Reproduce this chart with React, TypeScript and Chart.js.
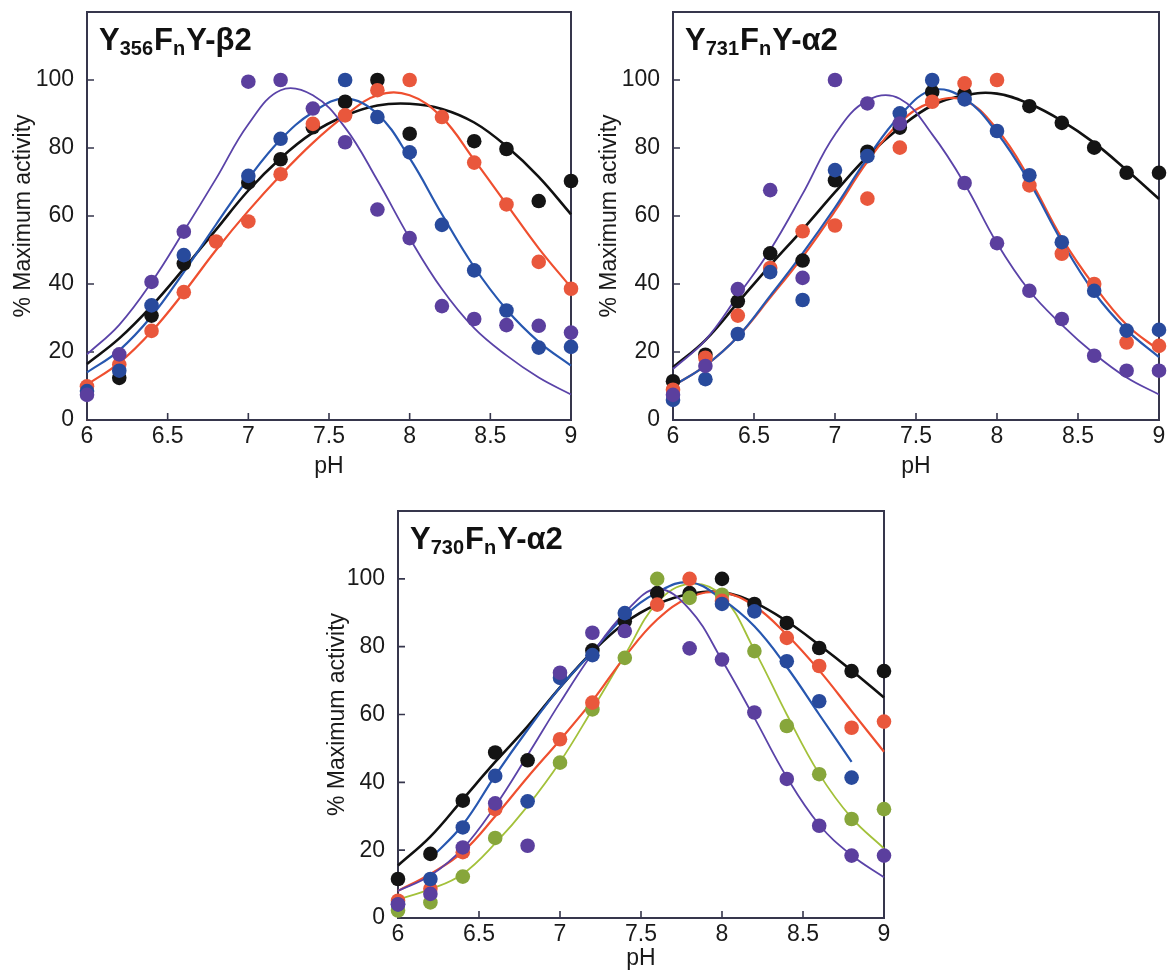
import React, { useEffect, useRef } from 'react';
import { Chart, registerables } from 'chart.js';
Chart.register(...registerables);

const FONT = '"Liberation Sans", Arial, Helvetica, sans-serif';

// pH grid shared by all panels
const pH = [6.0, 6.2, 6.4, 6.6, 6.8, 7.0, 7.2, 7.4, 7.6, 7.8, 8.0, 8.2, 8.4, 8.6, 8.8, 9.0];
const xTickValues = [6, 6.5, 7, 7.5, 8, 8.5, 9];
const yTickValues = [0, 20, 40, 60, 80, 100];

// ---------- Panel 1: Y356FnY-β2 ----------
const p1BlackPts = [null, 12.4, 30.7, 46, null, 69.8, 76.7, 86.1, 93.6, 100, 84.2, null, 82, 79.7, 64.4, 70.3];
const p1BluePts = [8.5, 14.5, 33.7, 48.5, null, 71.8, 82.7, null, 100, 89.1, 78.7, 57.4, 44, 32.2, 21.3, 21.5];
const p1OrangePts = [9.9, 16.3, 26.2, 37.6, 52.5, 58.4, 72.3, 87.1, 89.6, 97, 100, 89.1, 75.7, 63.4, 46.5, 38.6];
const p1PurplePts = [7.4, 19.3, 40.6, 55.4, null, 99.5, 100, 91.6, 81.7, 61.9, 53.5, 33.5, 29.7, 27.9, 27.7, 25.7];
const p1BlackFit = [16.5, 24, 33.5, 44.5, 56, 67.5, 77, 84.5, 89.5, 92.5, 93, 91.5, 87.5, 80.5, 71.5, 60.5];
const p1BlueFit = [14, 20.5, 30.5, 43.5, 57.5, 71, 82.5, 90.5, 94.5, 90, 77, 60.5, 45, 32.5, 23, 16];
const p1OrangeFit = [10.4, 16.8, 26, 37.5, 50, 61.5, 72, 81.5, 89.5, 95.5, 95.5, 89, 76.5, 63.5, 50.5, 39];
const p1PurpleFit = [19.3, 28, 40.5, 55.5, 71, 87, 97, 95.5, 86, 70.5, 53.5, 38.5, 27, 19, 12.5, 7.5];

// ---------- Panel 2: Y731FnY-α2 ----------
const p2BlackPts = [11.4, 19.2, 34.9, 49, 46.9, 70.5, 78.9, 86, 96.5, 96, null, 92.3, 87.4, 80.1, 72.7, 72.7];
const p2BluePts = [5.9, 12, 25.3, 43.5, 35.3, 73.5, 77.6, 90.2, 100, 94.3, 85, 72, 52.3, 38, 26.3, 26.5];
const p2OrangePts = [8.9, 18.3, 30.7, 44.7, 55.5, 57.2, 65.1, 80.1, 93.6, 99, 100, 69, 48.9, 40, 22.8, 21.8];
const p2PurplePts = [7.4, 15.9, 38.5, 67.6, 41.8, 100, 93.1, 87.2, null, 69.7, 52, 38, 29.7, 18.9, 14.5, 14.5];
const p2BlackFit = [15.5, 23.5, 34.5, 45.5, 56, 67, 77.5, 86, 92.5, 95.5, 96, 93, 88, 81.5, 73.5, 65];
const p2BlueFit = [10, 16, 24.5, 36.5, 49, 62.5, 77, 89.5, 97, 94.5, 84.5, 70, 52.5, 37.5, 26.5, 18.5];
const p2OrangeFit = [10, 16, 24.5, 36, 48, 61.5, 76, 87.5, 93.5, 94, 85.5, 71, 53.5, 39.5, 28, 20.5];
const p2PurpleFit = [15, 23.5, 36.5, 50, 66.5, 84, 94, 94.5, 84, 69.5, 52, 38, 28, 19.5, 12.5, 7.5];

// ---------- Panel 3: Y730FnY-α2 ----------
const p3BlackPts = [11.5, 18.9, 34.6, 48.8, 46.5, null, 78.9, 87.5, 95.8, 95.8, 100, 92.6, 87, 79.6, 72.8, 72.8];
const p3BluePts = [4, 11.5, 26.7, 41.9, 34.4, 70.8, 77.5, 89.9, null, null, 92.6, 90.4, 75.7, 63.9, 41.4, null];
const p3PurplePts = [4, 7.1, 20.8, 33.8, 21.3, 72.3, 84.1, 84.6, null, 79.5, 76.2, 60.6, 41.0, 27.2, 18.4, 18.4];
const p3OrangePts = [5.1, 8.6, 19.4, 32.1, null, 52.7, 63.5, null, 92.4, 100, 93.5, null, 82.6, 74.3, 56.1, 57.9];
const p3GreenPts = [2.2, 4.6, 12.2, 23.6, null, 45.8, 61.5, 76.7, 100, 94.4, 95.3, 78.7, 56.6, 42.4, 29.2, 32.1];
const p3BlackFit = [15.5, 24, 35, 46, 56.5, 68, 78.5, 87, 92.5, 95.5, 96, 93, 87.5, 80.5, 73, 65];
const p3BlueFit = [null, 17.5, 27.5, 42, 55.5, 68, 78.5, 89, 96, 99, 94, 86, 74, 60, 46, null];
const p3OrangeFit = [8, 13, 19.5, 30, 41.5, 52.5, 64, 77, 88, 94.5, 96, 92, 83.5, 73, 61, 49];
const p3PurpleFit = [8, 12.5, 20.5, 33, 48, 63.5, 78, 90, 97, 91, 76, 59, 41.5, 27.5, 18.5, 12];
const p3GreenFit = [5.5, 8.5, 13, 22, 33, 46, 61.5, 77.5, 93, 98.5, 95, 79, 60, 42.5, 29.5, 20.5];

const COLORS = {
  black: { pt: '#141414', line: '#111111', w: 2.6 },
  orange: { pt: '#e9573c', line: '#ef4f2f', w: 2.2 },
  blue: { pt: '#284a9c', line: '#2757b0', w: 2.2 },
  purple: { pt: '#5b3f9e', line: '#5a43a8', w: 1.8 },
  green: { pt: '#87a63b', line: '#a3c13a', w: 1.8 },
};

type Key = keyof typeof COLORS;
type Series = { key: Key; pts: (number | null)[]; fit: (number | null)[]; order: number };
type Part = { t: string; sub?: boolean };

const toXY = (vals: (number | null)[]) =>
  pH.map((x, i) => ({ x, y: vals[i] })).filter((d) => d.y !== null && d.y !== undefined);

const panels = [
  {
    left: 0, top: 0, width: 585, height: 482,
    pad: { left: 0, top: 12, right: 14, bottom: 0 },
    yAxisW: 87, xAxisH: 62, yTitlePad: 10, xTitlePad: 2,
    title: [{ t: 'Y' }, { t: '356', sub: true }, { t: 'F' }, { t: 'n', sub: true }, { t: 'Y-β2' }] as Part[],
    series: [
      { key: 'purple', pts: p1PurplePts, fit: p1PurpleFit, order: 0 },
      { key: 'blue', pts: p1BluePts, fit: p1BlueFit, order: 1 },
      { key: 'orange', pts: p1OrangePts, fit: p1OrangeFit, order: 2 },
      { key: 'black', pts: p1BlackPts, fit: p1BlackFit, order: 3 },
    ] as Series[],
  },
  {
    left: 585, top: 0, width: 583, height: 482,
    pad: { left: 0, top: 12, right: 9, bottom: 0 },
    yAxisW: 88, xAxisH: 62, yTitlePad: 11, xTitlePad: 2,
    title: [{ t: 'Y' }, { t: '731', sub: true }, { t: 'F' }, { t: 'n', sub: true }, { t: 'Y-α2' }] as Part[],
    series: [
      { key: 'purple', pts: p2PurplePts, fit: p2PurpleFit, order: 0 },
      { key: 'blue', pts: p2BluePts, fit: p2BlueFit, order: 1 },
      { key: 'orange', pts: p2OrangePts, fit: p2OrangeFit, order: 2 },
      { key: 'black', pts: p2BlackPts, fit: p2BlackFit, order: 3 },
    ] as Series[],
  },
  {
    left: 300, top: 490, width: 600, height: 482,
    pad: { left: 0, top: 21, right: 16, bottom: 0 },
    yAxisW: 98, xAxisH: 54, yTitlePad: 24, xTitlePad: 0,
    title: [{ t: 'Y' }, { t: '730', sub: true }, { t: 'F' }, { t: 'n', sub: true }, { t: 'Y-α2' }] as Part[],
    series: [
      { key: 'purple', pts: p3PurplePts, fit: p3PurpleFit, order: 0 },
      { key: 'blue', pts: p3BluePts, fit: p3BlueFit, order: 1 },
      { key: 'orange', pts: p3OrangePts, fit: p3OrangeFit, order: 2 },
      { key: 'green', pts: p3GreenPts, fit: p3GreenFit, order: 3 },
      { key: 'black', pts: p3BlackPts, fit: p3BlackFit, order: 4 },
    ] as Series[],
  },
];

const framePlugin = {
  id: 'frame',
  beforeDatasetsDraw(chart: any) {
    const { ctx, chartArea: a, scales } = chart;
    ctx.save();
    ctx.strokeStyle = '#36364c';
    ctx.lineWidth = 2;
    ctx.strokeRect(a.left, a.top, a.right - a.left, a.bottom - a.top);
    ctx.lineWidth = 1.6;
    ctx.beginPath();
    for (const v of xTickValues) {
      const x = scales.x.getPixelForValue(v);
      ctx.moveTo(x, a.bottom);
      ctx.lineTo(x, a.bottom - 7);
    }
    for (const v of yTickValues) {
      const y = scales.y.getPixelForValue(v);
      ctx.moveTo(a.left, y);
      ctx.lineTo(a.left + 7, y);
    }
    ctx.stroke();
    ctx.restore();
  },
};

const titlePlugin = {
  id: 'panelTitle',
  afterDraw(chart: any, _args: any, opts: any) {
    const parts: Part[] = opts.parts || [];
    const { ctx, chartArea: a } = chart;
    let x = a.left + 12;
    const y = a.top + 38;
    ctx.save();
    ctx.fillStyle = '#111111';
    ctx.textBaseline = 'alphabetic';
    ctx.textAlign = 'left';
    for (const p of parts) {
      ctx.font = `bold ${p.sub ? 20 : 31}px ${FONT}`;
      ctx.fillText(p.t, x, p.sub ? y + 5 : y);
      x += ctx.measureText(p.t).width + (p.sub ? 1 : 0);
    }
    ctx.restore();
  },
};

const zeroPad = (s: any) => {
  s.paddingTop = 0;
  s.paddingBottom = 0;
  s.paddingLeft = 0;
  s.paddingRight = 0;
};

function Panel({ cfg }: { cfg: (typeof panels)[number] }) {
  const ref = useRef<HTMLCanvasElement>(null);
  useEffect(() => {
    if (!ref.current) return;
    const datasets: any[] = [];
    cfg.series.forEach((s) => {
      const c = COLORS[s.key];
      datasets.push({
        label: s.key + ' points',
        data: toXY(s.pts),
        showLine: false,
        pointRadius: 7.3,
        pointHoverRadius: 7.3,
        pointBorderWidth: 0,
        pointBackgroundColor: c.pt,
        borderColor: c.pt,
        clip: false,
        order: s.order,
      });
      datasets.push({
        label: s.key + ' fit',
        data: toXY(s.fit),
        borderColor: c.line,
        borderWidth: c.w,
        pointRadius: 0,
        tension: 0.4,
        fill: false,
        clip: false,
        order: 10 + s.order,
      });
    });
    const tickFont = { family: FONT, size: 23 };
    const titleFont = { family: FONT, size: 23 };
    const chart = new Chart(ref.current, {
      type: 'line',
      data: { datasets },
      plugins: [framePlugin, titlePlugin],
      options: {
        animation: false,
        responsive: true,
        maintainAspectRatio: false,
        layout: { padding: cfg.pad },
        plugins: {
          legend: { display: false },
          tooltip: { enabled: false },
          panelTitle: { parts: cfg.title },
        } as any,
        scales: {
          x: {
            type: 'linear',
            min: 6,
            max: 9,
            afterBuildTicks: (s: any) => {
              s.ticks = xTickValues.map((v) => ({ value: v }));
            },
            afterFit: (s: any) => {
              s.height = cfg.xAxisH;
              zeroPad(s);
            },
            ticks: {
              padding: 3,
              font: tickFont,
              color: '#1a1a1a',
              maxRotation: 0,
              autoSkip: false,
              callback: (v: any) => String(Math.round(Number(v) * 10) / 10),
            },
            grid: { display: false, drawTicks: false },
            border: { display: false },
            title: {
              display: true,
              text: 'pH',
              font: titleFont,
              color: '#1a1a1a',
              padding: { top: 0, bottom: cfg.xTitlePad },
            },
          },
          y: {
            type: 'linear',
            min: 0,
            max: 120,
            afterBuildTicks: (s: any) => {
              s.ticks = yTickValues.map((v) => ({ value: v }));
            },
            afterFit: (s: any) => {
              s.width = cfg.yAxisW;
              zeroPad(s);
            },
            ticks: {
              padding: 13,
              font: tickFont,
              color: '#1a1a1a',
              callback: (v: any) => String(v),
            },
            grid: { display: false, drawTicks: false },
            border: { display: false },
            title: {
              display: true,
              text: '% Maximum activity',
              font: titleFont,
              color: '#1a1a1a',
              padding: { top: cfg.yTitlePad, bottom: 0 },
            },
          },
        },
      } as any,
    });
    return () => chart.destroy();
  }, []);
  return (
    <div style={{ position: 'absolute', left: cfg.left, top: cfg.top, width: cfg.width, height: cfg.height }}>
      <canvas ref={ref} />
    </div>
  );
}

export default function App() {
  return (
    <div
      style={{
        position: 'absolute',
        left: 0,
        top: 0,
        width: 1168,
        height: 972,
        background: '#ffffff',
        overflow: 'hidden',
      }}
    >
      {panels.map((p, i) => (
        <Panel key={i} cfg={p} />
      ))}
    </div>
  );
}
